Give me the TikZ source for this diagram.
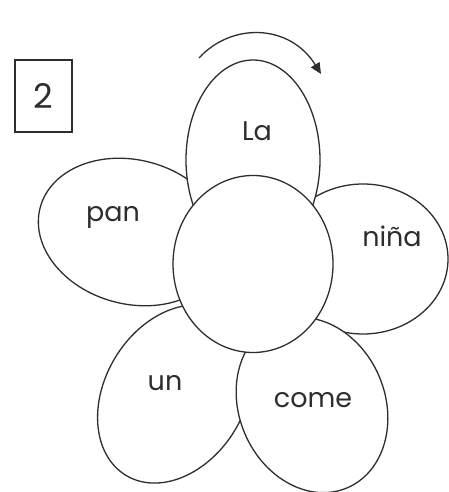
\documentclass[tikz,border=0pt]{standalone}
\usepackage{fontspec}
\setmainfont{Poppins}
\usetikzlibrary{shapes.geometric,arrows.meta}
\definecolor{ink}{HTML}{2E2E2E}
\tikzset{
  petal/.style={draw=ink, line width=1.3pt, fill=white, ellipse, inner sep=0pt, outer sep=0pt},
  word/.style={text=ink, font=\fontsize{27}{29}\selectfont, inner sep=0pt}
}
\begin{document}
\begin{tikzpicture}[x=1pt,y=-1pt]
\useasboundingbox (0,0) rectangle (449,492);
% petals, back to front
\node[petal, minimum width=190pt, minimum height=140pt, rotate=59] (unp) at (175,394) {};
\node[petal, minimum width=170pt, minimum height=150pt, rotate=0] (ninap) at (363,259) {};
\node[petal, minimum width=190pt, minimum height=144pt, rotate=-15] (panp) at (132,232) {};
\node[petal, minimum width=180pt, minimum height=146pt, rotate=-67] (comep) at (312,405) {};
\node[petal, minimum width=200pt, minimum height=134pt, rotate=90] (lap) at (253,160) {};
% centre
\node[petal, minimum width=160pt, minimum height=177pt] (centre) at (253,264) {};
% words
\node[word] (la) at (257,131) {La};
\node[word] (nina) at (392,236) {niña};
\node[word] (pan) at (113,217) {pan};
\node[word] (un) at (165,383) {un};
\node[word] (come) at (313,400) {come};
% number box
\node[draw=ink, line width=1.3pt, minimum width=57pt, minimum height=72pt, inner sep=0pt] (box) at (43.5,96) {};
\node[word, font=\fontsize{34}{36}\selectfont] (two) at (box.center) {2};
% arrow
\coordinate (a0) at (199,58);
\coordinate (a1) at (321,74);
\draw[ink, line width=1.3pt, -{Triangle[length=11pt,width=10pt]}] (a0) .. controls (232,22) and (290,24) .. (a1);
\end{tikzpicture}
\end{document}
